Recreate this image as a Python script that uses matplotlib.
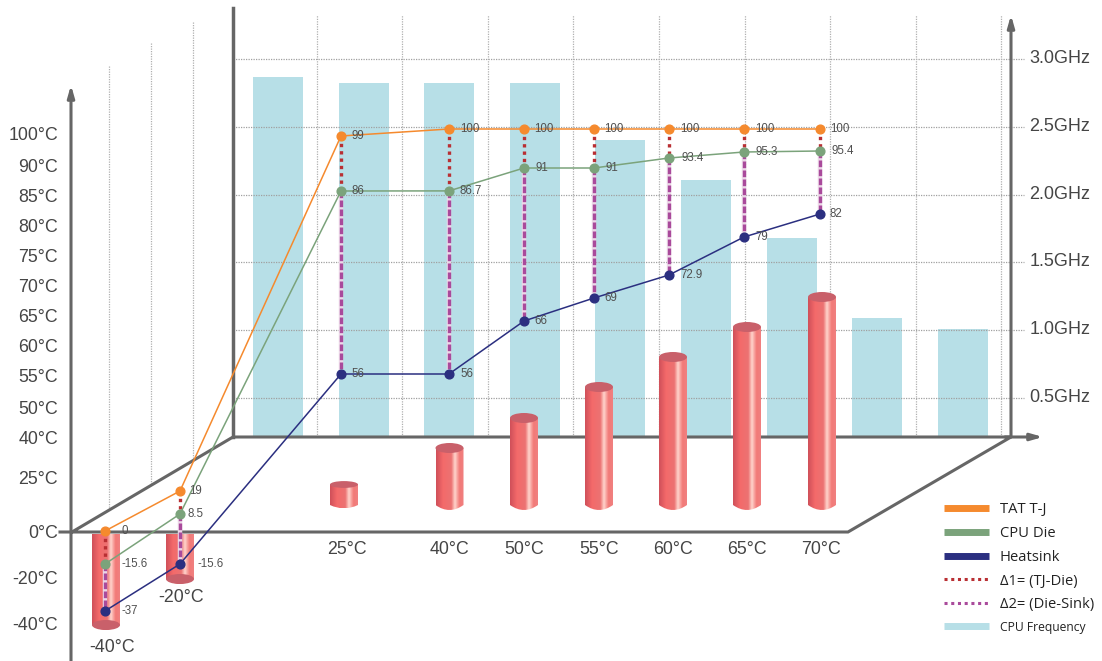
import numpy as np
import matplotlib
matplotlib.use('Agg')
import matplotlib.pyplot as plt
from matplotlib.colors import LinearSegmentedColormap
from matplotlib.lines import Line2D
from matplotlib.patches import Ellipse, PathPatch
from matplotlib.path import Path

plt.rcParams['font.family'] = ['Liberation Sans', 'DejaVu Sans']

W, H = 1102, 661

# ambient temperatures
ambient = ['-40°C', '-20°C', '25°C', '40°C', '50°C', '55°C', '60°C', '65°C', '70°C']
tat = [0, 19, 99, 100, 100, 100, 100, 100, 100]
die = [-15.6, 8.5, 86, 86.7, 91, 91, 93.4, 95.3, 95.4]
sink = [-37, -15.6, 56, 56, 66, 69, 72.9, 79, 82]
cyl_height = [-91, -45, 20.5, 57, 87, 118, 148, 178, 208]

# cpu frequency, GHz
freq = [2.87, 2.82, 2.82, 2.82, 2.40, 2.11, 1.68, 1.09, 1.01]
freq_ticks = [0.5, 1.0, 1.5, 2.0, 2.5, 3.0]
temp_labels = ['100°C', '90°C', '85°C', '80°C', '75°C', '70°C', '65°C', '60°C', '55°C',
               '50°C', '40°C', '25°C', '0°C', '-20°C', '-40°C']

# layout, in picture pixels
point_x = [105, 180, 341, 449, 524, 594, 669, 744, 820]
cyl_x = [106, 180, 344, 449.5, 524, 599, 673, 747, 822]
amb_label_x = [112, 181, 347, 450, 524, 599, 673, 747, 821]
amb_label_y = [648, 598, 550, 550, 550, 550, 550, 550, 550]
temp_label_y = [136, 167, 197, 227, 258, 288, 318, 348, 378, 409, 439, 479, 534, 580, 625]
tat_dx = [17, 9, 10, 11, 10, 10, 11, 11, 10]
die_dx = [17, 8, 11, 11, 11, 11, 12, 12, 11]
sink_dx = [16, 17, 10, 11, 10, 10, 11, 11, 9]

# temperature axis of the lines is not linear
scale_t = [-60, -37, -15.6, 0, 8.5, 19, 56, 66, 69, 72.9, 79, 82, 86, 86.7, 91, 93.4, 95.3, 95.4, 99, 100, 130]
scale_p = [661, 611, 564, 531, 514, 491, 374, 321, 298, 275, 237, 214, 191, 190.9, 168, 158, 152, 151, 136, 129, 0]

GRAY = '#666666'
TXT = '#454545'
ORANGE = '#f58a2e'
GREEN = '#7ba37b'
NAVY = '#2b2f80'
RED = '#b92f33'
PURPLE = '#a94a9b'
BLUE = '#b7dfe7'

fig = plt.figure(figsize=(W/100, H/100), dpi=100)

# bars and grid
ax_f = fig.add_axes([233/W, (H-437)/H, (1011-233)/W, (437-15)/H], zorder=1)
ax_f.set_xlim(-0.526, 8.563)
ax_f.set_ylim((465.8-437)/135.6, (465.8-15)/135.6)
ax_f.axis('off')
base = ax_f.get_ylim()[0]
ax_f.bar(range(len(freq)), np.array(freq)-base, bottom=base, width=50/85.6, color=BLUE)
ax_f.hlines(freq_ticks, -0.526, 8.71, color='#a0a0a0', lw=0.9, ls=(0, (1, 1)), clip_on=False)
ax_f.vlines(np.arange(9)+0.45, base, ax_f.get_ylim()[1], color='#b0b0b0', lw=0.9, ls=(0, (1, 1)))
for f in freq_ticks:
    ax_f.text(8.78, f+0.004, '{:.1f}GHz'.format(f), fontsize=13, color=TXT, va='center', ha='left')

# floor, axes and cylinders, picture pixels
ax = fig.add_axes([0, 0, 1, 1], zorder=2)
ax.set_xlim(0, W)
ax.set_ylim(H, 0)
ax.axis('off')

for x, top in zip([109, 151, 193], [66, 43, 22]):
    ax.plot([x, x], [top, 532-(x-72)*95/161], color='#b0b0b0', lw=0.9, ls=(0, (1, 1)))

ax.plot([72, 233, 1011, 848, 60], [532, 437, 437, 532, 532], color=GRAY, lw=2.2, solid_joinstyle='miter')
ax.plot([233, 233], [8, 437], color=GRAY, lw=2.5)
arrow = dict(arrowstyle='-|>,head_width=0.2,head_length=0.7', color=GRAY, lw=2.2, shrinkA=0, shrinkB=0)
ax.annotate('', xy=(71, 85), xytext=(71, 661), arrowprops=arrow)
ax.annotate('', xy=(1011, 15), xytext=(1011, 437), arrowprops=arrow)
ax.annotate('', xy=(1043, 437), xytext=(1005, 437), arrowprops=arrow)

cyl_cmap = LinearSegmentedColormap.from_list('cyl', [(0, '#d0505a'), (0.25, '#f46a6a'), (0.55, '#ec7272'),
                                                     (0.68, '#ffd4cc'), (0.85, '#f27a78'), (1, '#f08080')])
grad = np.linspace(0, 1, 64).reshape(1, -1)
r = 14
for x, h in zip(cyl_x, cyl_height):
    if h > 0:
        y_top, y_bot = 505-h, 505
        ry = min(5.0, h/6)
    else:
        y_top, y_bot = 534, 534-h
        ry = 5.0
    verts = [(x-r, y_top), (x+r, y_top), (x+r, y_bot), (x, y_bot+2*ry), (x-r, y_bot), (x-r, y_top)]
    codes = [Path.MOVETO, Path.LINETO, Path.LINETO, Path.CURVE3, Path.CURVE3, Path.CLOSEPOLY]
    clip = PathPatch(Path(verts, codes), transform=ax.transData, fc='none', ec='none')
    ax.add_patch(clip)
    im = ax.imshow(grad, cmap=cyl_cmap, extent=[x-r, x+r, y_bot+ry, y_top], aspect='auto', zorder=3)
    im.set_clip_path(clip)
    if h > 0:
        ax.add_patch(Ellipse((x, y_top), 2*r, 2*ry, fc='#c9606a', ec='none', zorder=4))
    else:
        ax.add_patch(Ellipse((x, y_bot), 2*r, 2*ry, fc='#c9606a', ec='none', zorder=4))
ax.set_xlim(0, W)
ax.set_ylim(H, 0)

for lab, y in zip(temp_labels, temp_label_y):
    ax.text(58, y, lab, fontsize=12.8, color=TXT, ha='right', va='center')
for lab, x, y in zip(ambient, amb_label_x, amb_label_y):
    ax.text(x, y, lab, fontsize=12.8, color=TXT, ha='center', va='center')

# temperature lines
def to_pix(v):
    return -np.interp(v, scale_t, scale_p)

def from_pix(p):
    return np.interp(-np.asarray(p), scale_p[::-1], scale_t[::-1])

ax_t = fig.add_axes([0, 0, 1, 1], zorder=3)
ax_t.set_xlim(0, W)
ax_t.set_yscale('function', functions=(to_pix, from_pix))
ax_t.set_ylim(-60, 130)
ax_t.axis('off')
ax_t.patch.set_alpha(0)

ax_t.vlines(point_x, die, sink, color='#ecd8e8', lw=3.2, zorder=1)
ax_t.vlines(point_x, die, sink, color=PURPLE, lw=2.4, ls=(0, (2, 0.7)), zorder=2)
ax_t.vlines(point_x, tat, die, color=RED, lw=2.4, ls=(0, (1, 1.2)), zorder=2)

for y, c, dx in [(tat, ORANGE, tat_dx), (die, GREEN, die_dx), (sink, NAVY, sink_dx)]:
    ax_t.plot(point_x, y, color=c, lw=1.1, marker='o', ms=6.3, zorder=3)
    for x, v, d in zip(point_x, y, dx):
        ax_t.annotate('{}'.format(v), (x, v), xytext=(d*0.72, 0), textcoords='offset points',
                      fontsize=8.3, color='#505050', va='center', ha='left', zorder=4)

handles = [Line2D([], [], color=ORANGE, lw=5, solid_capstyle='butt'),
           Line2D([], [], color=GREEN, lw=5, solid_capstyle='butt'),
           Line2D([], [], color=NAVY, lw=5, solid_capstyle='butt'),
           Line2D([], [], color=RED, lw=2.2, ls=(0, (1, 1.2))),
           Line2D([], [], color=PURPLE, lw=2.2, ls=(0, (1, 1.2))),
           Line2D([], [], color=BLUE, lw=5, solid_capstyle='butt')]
names = ['TAT T-J', 'CPU Die', 'Heatsink', 'Δ1= (TJ-Die)', 'Δ2= (Die-Sink)', 'CPU Frequency']
leg = ax_t.legend(handles, names, loc='upper left', bbox_to_anchor=(944/W, 1-502/H), frameon=False,
                  prop={'family': ['Open Sans', 'DejaVu Sans'], 'size': 10.6}, handlelength=3.05, handletextpad=0.75,
                  labelspacing=0.6, borderpad=0, borderaxespad=0)
leg.get_texts()[-1].set_fontsize(8.7)
for t in leg.get_texts():
    t.set_color('#222222')

fig.savefig('out.png', dpi=100)
